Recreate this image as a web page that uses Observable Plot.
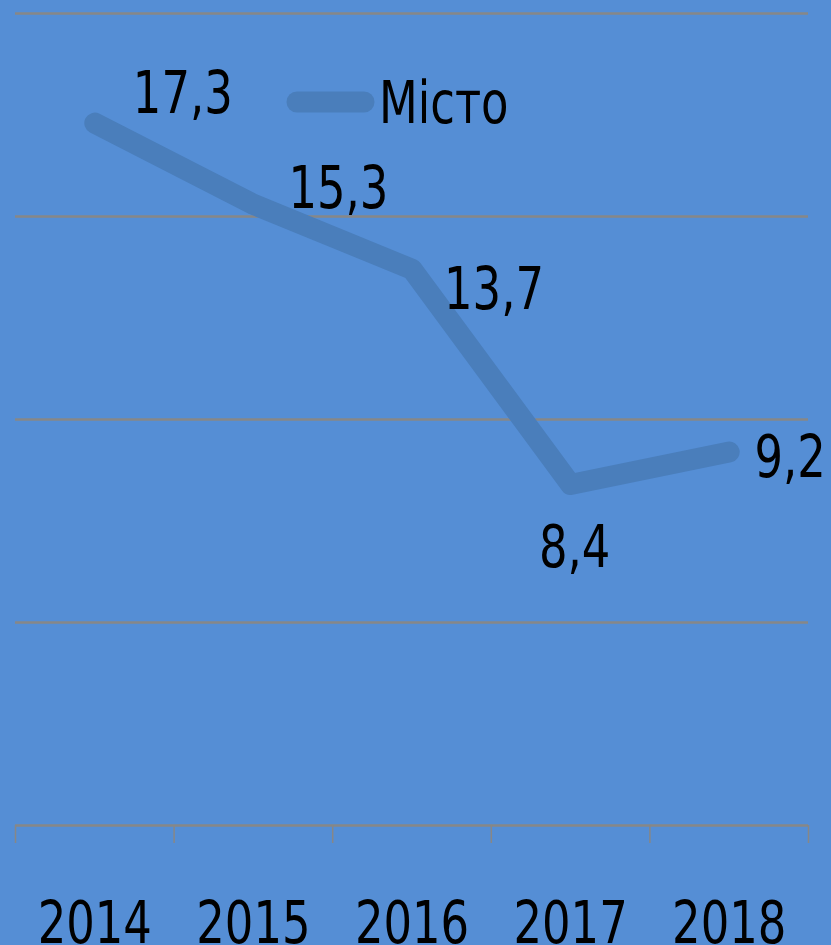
<!DOCTYPE html>
<html><head><meta charset="utf-8">
<script src="https://cdn.jsdelivr.net/npm/d3@7"></script>
<script src="https://cdn.jsdelivr.net/npm/@observablehq/plot@0.6"></script>
<style>
html,body{margin:0;padding:0;background:#558ED5;overflow:hidden}
#wrap{position:relative;width:831px;height:945px}
#legend{position:absolute;left:0;top:0;pointer-events:none}
</style></head><body><div id="wrap"></div>
<script>
const years = [2014, 2015, 2016, 2017, 2018];
const values = [17.3, 15.3, 13.7, 8.4, 9.2];
const labels = ["17,3", "15,3", "13,7", "8,4", "9,2"];
const yTicks = [5, 10, 15, 20];
const seriesName = "Місто";

const FONT = '"Liberation Sans Narrow", "DejaVu Sans Condensed", sans-serif';
const LINE = "#4a7ebb";
const GRID = "#878787";
const NARROW = 0.86; // horizontal squeeze to mimic the narrow face

const data = years.map((y, i) => ({year: y, value: values[i], label: labels[i]}));
const boundaries = years.map(y => y - 0.5).concat([years[years.length - 1] + 0.5]);

// label nudges (styling only), per year: [dx, dy]
const nudge = {2014: [88, -29], 2015: [85, -15], 2016: [82, 21], 2017: [4, 64], 2018: [61, 6]};

const chart = Plot.plot({
  width: 831,
  height: 945,
  marginLeft: 15,
  marginRight: 23,
  marginTop: 13,
  marginBottom: 120,
  style: {background: "transparent", fontFamily: FONT, color: "#000", overflow: "visible"},
  x: {type: "linear", domain: [boundaries[0], boundaries[boundaries.length - 1]]},
  y: {domain: [0, 20], axis: null},
  marks: [
    Plot.ruleY(yTicks, {stroke: GRID, strokeWidth: 2.5}),
    Plot.ruleY([0], {stroke: GRID, strokeWidth: 2.5}),
    Plot.axisX(boundaries, {tickSize: 18, stroke: GRID, strokeWidth: 1.5, tickFormat: () => "", label: null}),
    Plot.axisX(years, {tickSize: 0, tickPadding: 76, fontSize: 58, tickFormat: d => String(d), label: null, fill: "#000"}),
    Plot.line(data, {x: "year", y: "value", stroke: LINE, strokeWidth: 21, strokeLinecap: "round", strokeLinejoin: "round"}),
    ...years.map(yr => Plot.text(data.filter(d => d.year === yr), {
      x: "year", y: "value", text: "label", fontSize: 58, fill: "#000",
      dx: nudge[yr][0], dy: nudge[yr][1]
    }))
  ]
});

const wrap = document.getElementById("wrap");
wrap.appendChild(chart);

// legend overlay
const ns = "http://www.w3.org/2000/svg";
const lg = document.createElementNS(ns, "svg");
lg.setAttribute("id", "legend");
lg.setAttribute("width", 831);
lg.setAttribute("height", 945);
const sw = document.createElementNS(ns, "line");
sw.setAttribute("x1", 297); sw.setAttribute("x2", 364);
sw.setAttribute("y1", 102); sw.setAttribute("y2", 102);
sw.setAttribute("stroke", LINE); sw.setAttribute("stroke-width", 21);
sw.setAttribute("stroke-linecap", "round");
lg.appendChild(sw);
const tx = document.createElementNS(ns, "text");
tx.setAttribute("x", 379); tx.setAttribute("y", 123);
tx.setAttribute("font-size", 58);
tx.setAttribute("font-family", FONT);
tx.setAttribute("fill", "#000");
tx.textContent = seriesName;
lg.appendChild(tx);
wrap.appendChild(lg);

// squeeze glyphs horizontally
wrap.querySelectorAll("text").forEach(t => {
  const w = t.getComputedTextLength();
  if (w > 0) {
    t.setAttribute("textLength", (w * NARROW).toFixed(1));
    t.setAttribute("lengthAdjust", "spacingAndGlyphs");
  }
});
</script>
</body></html>
